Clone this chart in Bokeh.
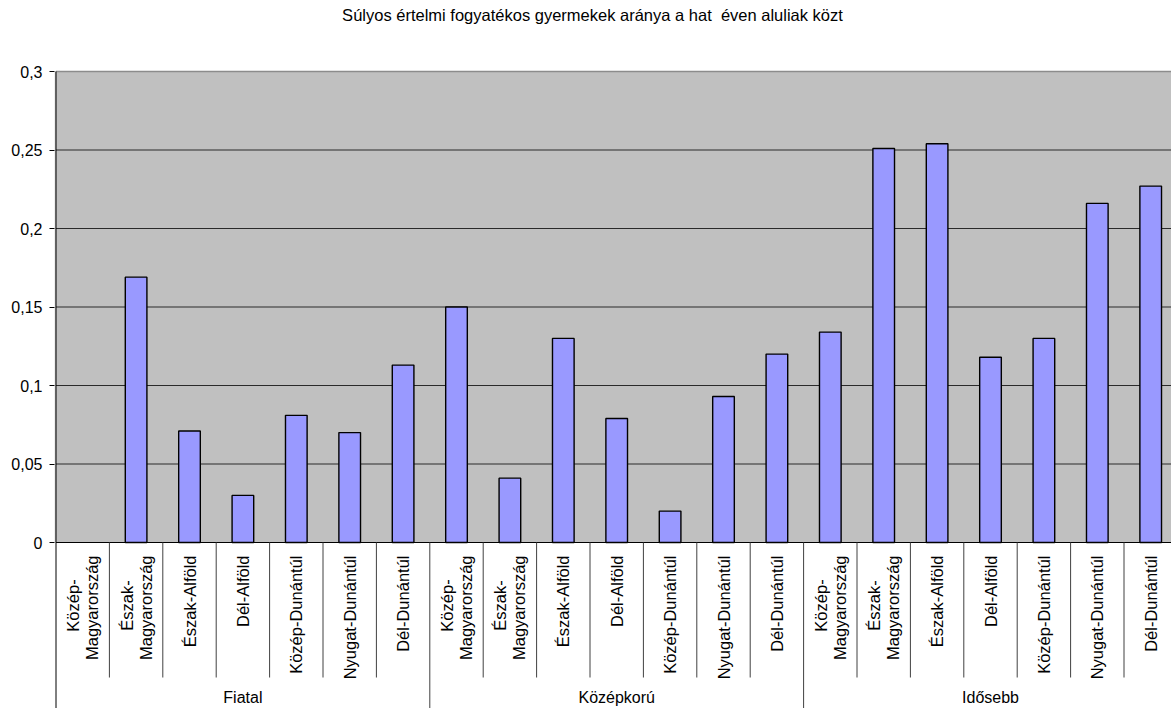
from math import pi

from bokeh.core.properties import value
from bokeh.embed import file_html
from bokeh.models import (BoxAnnotation, ColumnDataSource, CustomJSTickFormatter,
                          FixedTicker, Label, Range1d)
from bokeh.plotting import figure
from bokeh.resources import INLINE

# --- data -------------------------------------------------------------------
TITLE = "Súlyos értelmi fogyatékos gyermekek aránya a hat \u00a0éven aluliak közt"
AGE_GROUPS = ["Fiatal", "Középkorú", "Idősebb"]
REGIONS = ["Közép-\nMagyarország", "Észak-\nMagyarország", "Észak-Alföld",
           "Dél-Alföld", "Közép-Dunántúl", "Nyugat-Dunántúl", "Dél-Dunántúl"]
FIATAL = [None, 0.169, 0.071, 0.030, 0.081, 0.070, 0.113]
KOZEPKORU = [0.150, 0.041, 0.130, 0.079, 0.020, 0.093, 0.120]
IDOSEBB = [0.134, 0.251, 0.254, 0.118, 0.130, 0.216, 0.227]
Y_TICKS = [0, 0.05, 0.1, 0.15, 0.2, 0.25, 0.3]

SERIES = [FIATAL, KOZEPKORU, IDOSEBB]
FONT = "Liberation Sans"

# --- geometry -----------------------------------------------------------------
W, H = 1171, 708
LEFT = 54                 # canvas x of the frame's left edge
PLOT_TOP = 71             # canvas y of the top of the grey area
BASE = 542                # canvas y of the value axis zero
CAT_PX = 53.4             # width of one category in pixels

n_reg = len(REGIONS)
n_cat = n_reg * len(AGE_GROUPS)
y_max = Y_TICKS[-1]
py = (BASE - PLOT_TOP) / y_max          # pixels per unit of value


def y_at(canvas_y):
    return (BASE - canvas_y) / py


def x_at(canvas_x):
    return (canvas_x - LEFT - 1.5) / CAT_PX


y_lo, y_hi = y_at(H), y_at(0)
x_lo, x_hi = x_at(LEFT), x_at(W)
sep_low = y_at(677)       # end of the inner separators

xs, tops, labels = [], [], []
for g, vals in enumerate(SERIES):
    for r, v in enumerate(vals):
        xs.append(g * n_reg + r + 0.5)
        tops.append(float("nan") if v is None else v)
        labels.append(REGIONS[r])

p = figure(width=W, height=H,
           x_range=Range1d(x_lo, x_hi), y_range=Range1d(y_lo, y_hi),
           x_axis_location=None, toolbar_location=None, output_backend="svg",
           min_border_left=LEFT, min_border_right=0, min_border_top=0,
           min_border_bottom=0, outline_line_color=None,
           background_fill_color="white", border_fill_color="white")
p.xgrid.visible = False
p.ygrid.visible = False

# grey plot area
p.add_layout(BoxAnnotation(bottom=0, top=y_max, fill_color="#C0C0C0",
                           fill_alpha=1, line_color=None, level="underlay"))

# horizontal gridlines (behind the bars)
grid_y = Y_TICKS[1:-1]
p.segment(x0=[0] * len(grid_y), x1=[n_cat] * len(grid_y), y0=grid_y, y1=grid_y,
          line_color="#2a2a2a", line_width=1)
p.segment(x0=[0], x1=[n_cat], y0=[y_max], y1=[y_max],
          line_color="#8c8c8c", line_width=1.5)

# bars
src = ColumnDataSource(dict(x=xs, top=tops))
p.vbar(x="x", top="top", bottom=0, width=0.405, source=src,
       fill_color="#9999FF", line_color="black", line_width=1.4)

# value axis line, category baseline and separators
p.segment(x0=[0], x1=[0], y0=[y_lo], y1=[y_max], line_color="black", line_width=1)
p.segment(x0=[0], x1=[n_cat], y0=[0], y1=[0], line_color="black", line_width=1)
inner = [i for i in range(1, n_cat) if i % n_reg]
outer = [i for i in range(n_reg, n_cat + 1, n_reg)]
p.segment(x0=inner, x1=inner, y0=[0] * len(inner), y1=[sep_low] * len(inner),
          line_color="#404040", line_width=1)
p.segment(x0=outer, x1=outer, y0=[0] * len(outer), y1=[y_lo] * len(outer),
          line_color="#404040", line_width=1)

# rotated region labels
one_x, one_t, l1_x, l1_t, l2_x, l2_t = [], [], [], [], [], []
for x, lab in zip(xs, labels):
    parts = lab.split("\n")
    if len(parts) == 1:
        one_x.append(x)
        one_t.append(lab)
    else:
        l1_x.append(x)
        l1_t.append(parts[0])
        l2_x.append(x)
        l2_t.append(parts[1])

common = dict(angle=pi / 2, text_baseline="middle", text_color="black",
              text_font=value(FONT), text_font_size="16.5px")
p.text(x=one_x, y=[0] * len(one_x), text=one_t, text_align="right",
       y_offset=13, **common)
p.text(x=l2_x, y=[0] * len(l2_x), text=l2_t, text_align="right",
       x_offset=9.5, y_offset=13, **common)
p.text(x=l1_x, y=[0] * len(l1_x), text=l1_t, text_align="center",
       x_offset=-9.5, y_offset=63, **common)

# age group labels
grp_x = [g * n_reg + n_reg / 2 for g in range(len(AGE_GROUPS))]
p.text(x=grp_x, y=[y_at(697)] * len(grp_x), text=AGE_GROUPS, text_align="center",
       text_baseline="middle", text_color="black", text_font=value(FONT),
       text_font_size="16px")

# chart title
p.add_layout(Label(x=x_at(592), y=y_at(14), text=TITLE,
                   text_align="center", text_baseline="middle",
                   text_font=FONT, text_font_size="16.5px", text_color="black"))

# value axis ticks and labels
ax = p.yaxis[0]
ax.ticker = FixedTicker(ticks=Y_TICKS)
ax.formatter = CustomJSTickFormatter(
    code="return (Math.round(tick * 100) / 100).toString().replace('.', ',');")
ax.major_label_text_font = FONT
ax.major_label_text_font_size = "16px"
ax.major_label_text_color = "black"
ax.axis_line_color = None
ax.major_tick_line_color = "black"
ax.major_tick_out = 5
ax.major_tick_in = 0
ax.minor_tick_line_color = None
ax.major_label_standoff = 7

open("out.html", "w").write(file_html(p, INLINE))
